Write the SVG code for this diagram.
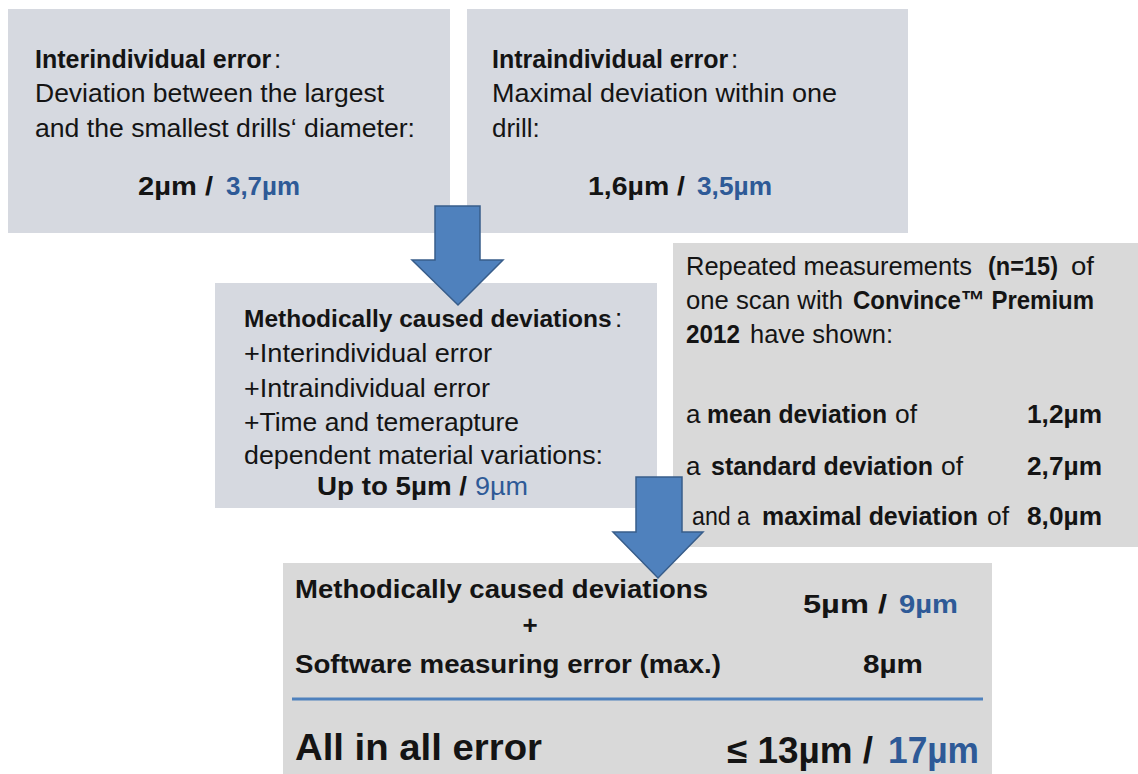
<svg xmlns="http://www.w3.org/2000/svg" width="1138" height="774" viewBox="0 0 1138 774">
<style>
text{font-family:"Liberation Sans",Arial,sans-serif;font-size:26px;fill:#141414}
.b{font-weight:bold}
.bl{fill:#2e5a97}
.big{font-size:36px}
.h{font-weight:bold;font-size:25px}
.box1{fill:#d6d9e0}
.box2{fill:#d9d9d9}
.arrow{fill:#4f81bd;stroke:#385d8a;stroke-width:1.5}
</style>
<rect width="1138" height="774" fill="#ffffff"/>
<g id="inter">
<rect class="box1" x="8" y="9" width="442" height="224"/>
<text x="35" y="68" class="h">Interindividual error</text>
<text x="274" y="68">:</text>
<text x="35" y="102" textLength="349" lengthAdjust="spacingAndGlyphs">Deviation between the largest</text>
<text x="35" y="137" textLength="380" lengthAdjust="spacingAndGlyphs">and the smallest drills‘ diameter:</text>
<text x="138" y="195" class="b" textLength="75" lengthAdjust="spacingAndGlyphs">2µm  /</text>
<text x="226" y="195" class="b bl" textLength="74" lengthAdjust="spacingAndGlyphs">3,7µm</text>
</g>
<g id="intra">
<rect class="box1" x="467" y="9" width="441" height="224"/>
<text x="492" y="68" class="h">Intraindividual error</text>
<text x="731" y="68">:</text>
<text x="492" y="102" textLength="345" lengthAdjust="spacingAndGlyphs">Maximal deviation within one</text>
<text x="492" y="137">drill:</text>
<text x="588" y="195" class="b" textLength="97" lengthAdjust="spacingAndGlyphs">1,6µm  /</text>
<text x="697" y="195" class="b bl" textLength="75" lengthAdjust="spacingAndGlyphs">3,5µm</text>
</g>
<g id="method">
<rect class="box1" x="215" y="283" width="442" height="225"/>
<text x="244" y="327" class="h" style="font-size:24.5px">Methodically caused deviations</text>
<text x="615" y="327">:</text>
<text x="244" y="362" textLength="248" lengthAdjust="spacingAndGlyphs">+Interindividual error</text>
<text x="244" y="397" textLength="246" lengthAdjust="spacingAndGlyphs">+Intraindividual error</text>
<text x="244" y="431" textLength="275" lengthAdjust="spacingAndGlyphs">+Time and temerapture</text>
<text x="244" y="464" textLength="359" lengthAdjust="spacingAndGlyphs">dependent material variations:</text>
<text x="317" y="495" class="b" textLength="150" lengthAdjust="spacingAndGlyphs">Up to 5µm  /</text>
<text x="475" y="495" class="bl" textLength="53" lengthAdjust="spacingAndGlyphs">9µm</text>
</g>
<g id="repeated">
<rect class="box2" x="673" y="243" width="465" height="304"/>
<text x="686" y="275" textLength="286" lengthAdjust="spacingAndGlyphs">Repeated measurements</text>
<text x="988" y="275" class="b" textLength="70" lengthAdjust="spacingAndGlyphs">(n=15)</text>
<text x="1071" y="275" textLength="23" lengthAdjust="spacingAndGlyphs">of</text>
<text x="686" y="309" textLength="157" lengthAdjust="spacingAndGlyphs">one scan with</text>
<text x="853" y="309" class="b" textLength="241" lengthAdjust="spacingAndGlyphs">Convince™ Premium</text>
<text x="686" y="343" class="b" textLength="54" lengthAdjust="spacingAndGlyphs">2012</text>
<text x="750" y="343" textLength="143" lengthAdjust="spacingAndGlyphs">have shown:</text>
<text x="686" y="423">a</text>
<text x="707" y="423" class="b" textLength="180" lengthAdjust="spacingAndGlyphs">mean deviation</text>
<text x="895" y="423" textLength="22" lengthAdjust="spacingAndGlyphs">of</text>
<text x="686" y="475">a</text>
<text x="711" y="475" class="b" textLength="222" lengthAdjust="spacingAndGlyphs">standard deviation</text>
<text x="941" y="475" textLength="22" lengthAdjust="spacingAndGlyphs">of</text>
<text x="692" y="525" textLength="58" lengthAdjust="spacingAndGlyphs">and a</text>
<text x="762" y="525" class="b" textLength="216" lengthAdjust="spacingAndGlyphs">maximal deviation</text>
<text x="987" y="525" textLength="22" lengthAdjust="spacingAndGlyphs">of</text>
<text x="1027" y="423" class="b" textLength="75" lengthAdjust="spacingAndGlyphs">1,2µm</text>
<text x="1027" y="475" class="b" textLength="75" lengthAdjust="spacingAndGlyphs">2,7µm</text>
<text x="1027" y="525" class="b" textLength="75" lengthAdjust="spacingAndGlyphs">8,0µm</text>
</g>
<g id="total">
<rect class="box2" x="283" y="563" width="709" height="211"/>
<text x="295" y="598" class="b" textLength="413" lengthAdjust="spacingAndGlyphs">Methodically caused deviations</text>
<text x="530" y="634" class="b" text-anchor="middle">+</text>
<text x="295" y="673" class="b" textLength="426" lengthAdjust="spacingAndGlyphs">Software measuring error (max.)</text>
<text x="803" y="613" class="b" textLength="84" lengthAdjust="spacingAndGlyphs">5µm  /</text>
<text x="899" y="613" class="b bl" textLength="59" lengthAdjust="spacingAndGlyphs">9µm</text>
<text x="863" y="673" class="b" textLength="60" lengthAdjust="spacingAndGlyphs">8µm</text>
<line x1="292" y1="699" x2="983" y2="699" stroke="#4f81bd" stroke-width="3"/>
<text x="295" y="760" class="b big" textLength="247" lengthAdjust="spacingAndGlyphs">All in all error</text>
<text x="727" y="763" class="b big" textLength="146" lengthAdjust="spacingAndGlyphs">≤ 13µm  /</text>
<text x="888" y="763" class="b bl big" textLength="91" lengthAdjust="spacingAndGlyphs">17µm</text>
</g>
<g id="connectors">
<polygon class="arrow" points="435,206 480,206 480,260 503,260 458,305 412,260 435,260"/>
<polygon class="arrow" points="636,477 682,477 682,532 703,532 658,578 613,532 636,532"/>
</g>
</svg>
